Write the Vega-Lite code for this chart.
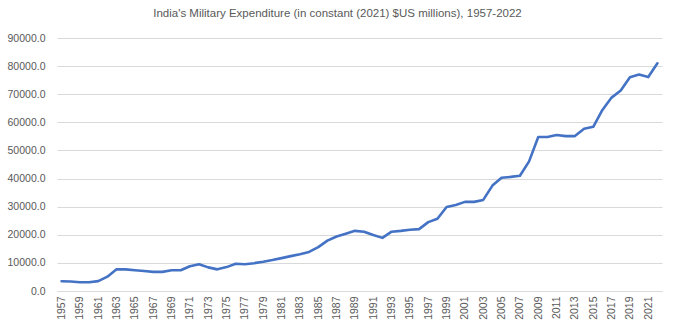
{
  "$schema": "https://vega.github.io/schema/vega-lite/v6.json",
  "width": 605,
  "height": 253,
  "autosize": {"type": "none"},
  "padding": {"left": 57, "top": 38, "right": 11, "bottom": 39},
  "background": "white",
  "title": {
    "text": "India's Military Expenditure (in constant (2021) $US millions), 1957-2022",
    "font": "Liberation Sans",
    "fontSize": 11.5,
    "fontWeight": "normal",
    "color": "#595959",
    "anchor": "middle",
    "dx": -22,
    "offset": 14
  },
  "config": {"view": {"stroke": null}},
  "data": {
    "values": [
      {"year": 1957, "value": 3450}, {"year": 1958, "value": 3400}, {"year": 1959, "value": 3100},
      {"year": 1960, "value": 3100}, {"year": 1961, "value": 3500}, {"year": 1962, "value": 5100},
      {"year": 1963, "value": 7700}, {"year": 1964, "value": 7700}, {"year": 1965, "value": 7400},
      {"year": 1966, "value": 7100}, {"year": 1967, "value": 6800}, {"year": 1968, "value": 6800},
      {"year": 1969, "value": 7400}, {"year": 1970, "value": 7400}, {"year": 1971, "value": 8800},
      {"year": 1972, "value": 9500}, {"year": 1973, "value": 8400}, {"year": 1974, "value": 7700},
      {"year": 1975, "value": 8500}, {"year": 1976, "value": 9700}, {"year": 1977, "value": 9500},
      {"year": 1978, "value": 9900}, {"year": 1979, "value": 10400}, {"year": 1980, "value": 11000},
      {"year": 1981, "value": 11700}, {"year": 1982, "value": 12400}, {"year": 1983, "value": 13100},
      {"year": 1984, "value": 13900}, {"year": 1985, "value": 15600}, {"year": 1986, "value": 17900},
      {"year": 1987, "value": 19400}, {"year": 1988, "value": 20400}, {"year": 1989, "value": 21400},
      {"year": 1990, "value": 21100}, {"year": 1991, "value": 19900}, {"year": 1992, "value": 18900},
      {"year": 1993, "value": 21100}, {"year": 1994, "value": 21400}, {"year": 1995, "value": 21800},
      {"year": 1996, "value": 22000}, {"year": 1997, "value": 24500}, {"year": 1998, "value": 25700},
      {"year": 1999, "value": 29900}, {"year": 2000, "value": 30600}, {"year": 2001, "value": 31700},
      {"year": 2002, "value": 31700}, {"year": 2003, "value": 32400}, {"year": 2004, "value": 37500},
      {"year": 2005, "value": 40300}, {"year": 2006, "value": 40600}, {"year": 2007, "value": 41000},
      {"year": 2008, "value": 46100}, {"year": 2009, "value": 54800}, {"year": 2010, "value": 54800},
      {"year": 2011, "value": 55500}, {"year": 2012, "value": 55100}, {"year": 2013, "value": 55100},
      {"year": 2014, "value": 57700}, {"year": 2015, "value": 58400}, {"year": 2016, "value": 64400},
      {"year": 2017, "value": 68800}, {"year": 2018, "value": 71300}, {"year": 2019, "value": 76000},
      {"year": 2020, "value": 77000}, {"year": 2021, "value": 76100}, {"year": 2022, "value": 81000}
    ]
  },
  "mark": {"type": "line", "color": "#4472C4", "strokeWidth": 2.6, "strokeJoin": "round", "strokeCap": "round"},
  "encoding": {
    "x": {
      "field": "year",
      "type": "ordinal",
      "scale": {"type": "point", "padding": 0.5},
      "axis": {
        "title": null,
        "values": [1957,1959,1961,1963,1965,1967,1969,1971,1973,1975,1977,1979,1981,1983,1985,1987,1989,1991,1993,1995,1997,1999,2001,2003,2005,2007,2009,2011,2013,2015,2017,2019,2021],
        "labelAngle": -90,
        "labelAlign": "right",
        "labelBaseline": "middle",
        "labelFont": "Liberation Sans",
        "labelFontSize": 10.5,
        "labelColor": "#595959",
        "labelPadding": 5,
        "ticks": false,
        "domain": true,
        "domainColor": "#d9d9d9",
        "grid": false
      }
    },
    "y": {
      "field": "value",
      "type": "quantitative",
      "scale": {"domain": [0, 90000], "nice": false},
      "axis": {
        "title": null,
        "values": [0,10000,20000,30000,40000,50000,60000,70000,80000,90000],
        "format": ".1f",
        "labelFont": "Liberation Sans",
        "labelFontSize": 10.5,
        "labelColor": "#595959",
        "labelPadding": 12,
        "ticks": false,
        "domain": false,
        "grid": true,
        "gridColor": "#d9d9d9",
        "gridWidth": 1
      }
    }
  }
}
